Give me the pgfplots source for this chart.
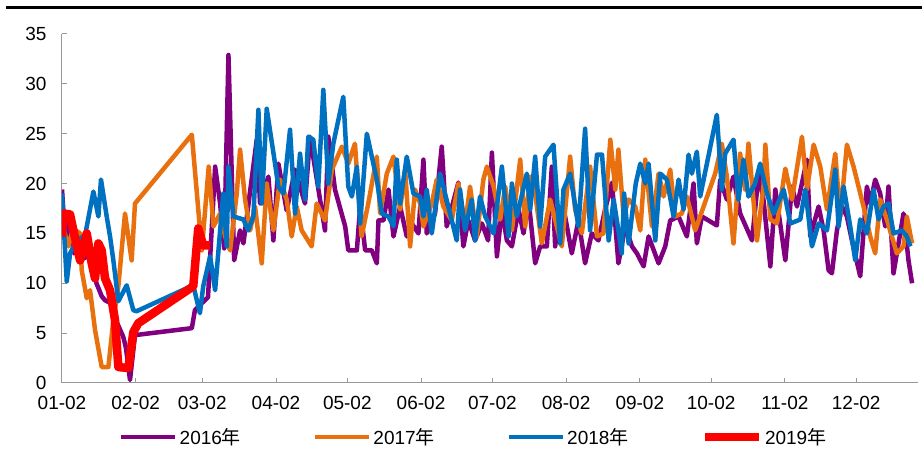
\documentclass[border=0pt]{standalone}
\usepackage{fontspec}
\setmainfont{Liberation Sans}
\newfontfamily\cjk{Noto Sans CJK SC}
\usepackage{pgfplots}
\pgfplotsset{compat=1.18}

\definecolor{c2016}{HTML}{800080}
\definecolor{c2017}{HTML}{E8700E}
\definecolor{c2018}{HTML}{0070C0}
\definecolor{c2019}{HTML}{FF0000}
\definecolor{axgray}{HTML}{999999}

\begin{document}
\begin{tikzpicture}[x=1pt,y=1pt]
\useasboundingbox (0,0) rectangle (922,455);
\draw[line width=3pt] (6,447) -- (922,447);
\begin{axis}[
    at={(62pt,72pt)}, anchor=south west,
    scale only axis,
    width=856pt, height=349pt,
    xmin=0, xmax=360,
    ymin=0, ymax=35,
    axis x line*=bottom, axis y line*=left,
    axis line style={-, draw=axgray, line width=1pt},
    tick style={draw=axgray, line width=1pt},
    tick align=inside,
    major tick length=5pt,
    xtick={0,31,59,90,120,151,181,212,243,273,304,334},
    xticklabels={01-02,02-02,03-02,04-02,05-02,06-02,07-02,08-02,09-02,10-02,11-02,12-02},
    ytick={0,5,...,35},
    /pgf/number format/assume math mode=true,
    ticklabel style={font=\fontsize{19}{22}\selectfont},
    yticklabel style={xshift=-12pt},
    xticklabel style={yshift=-10pt},
    line join=round,
    legend columns=4,
    legend style={at={(0.481,-0.155)}, anchor=center, draw=none, fill=none,
        font=\fontsize{19}{22}\selectfont,
        /tikz/every even column/.append style={column sep=70pt},
        nodes={inner sep=2pt}},
    legend image code/.code={\draw[#1] (0pt,0pt) -- (54pt,0pt);},
]
% 2016
\addplot[c2016, line width=4.5pt] coordinates {
(0,19.4) (1.5,14) (3,16.5) (5,13) (7,15) (9.5,12.5) (12,13.5) (14.5,10) (16.7,8.7)
(18.1,8.3) (20.5,8.0) (22.3,6.5) (25.8,4.6) (26.9,3.5) (28.6,0.3) (30.7,4.8)
(54.6,5.5) (55.9,7.3) (58.8,8.0) (61.4,8.6) (64.4,21.7) (66.5,18.0) (68.2,13.5)
(70.0,32.9) (72.4,12.3) (74.9,15.3) (76.3,14.0) (81.9,24.4) (83.3,18.0) (86.8,20.7)
(88.9,14.3) (91.0,22.0) (94.5,17.3) (98.0,21.4) (102.2,18.0) (104.3,24.7) (110.6,15.3)
(112.0,24.7) (114.8,19.4) (119.1,15.7) (120.4,13.3) (124.0,13.3) (125.4,17.7) (127.5,13.3)
(130.3,13.3) (132.4,12.0) (133.1,16.3) (135.2,16.3) (137.3,19.4) (139.4,14.7) (142.2,17.7)
(145.0,14.7) (147.1,16.0) (149.9,15.0) (152.0,22.4) (153.4,15.0) (156.9,17.0) (159.7,23.7)
(161.8,15.7) (166.7,20.1) (168.8,13.7) (170.9,16.3) (173.7,14.3) (176.6,16.0) (179.2,14.3)
(180.8,23.1) (182.9,12.7) (185.0,17.4) (187.1,14.3) (189.2,13.7) (192.0,17.4) (194.1,15.0)
(196.2,18.4) (199.0,12.0) (201.1,13.7) (203.9,13.7) (206.0,21.7) (207.4,13.7) (209.5,17.4)
(211.6,16.7) (214.4,13.0) (217.2,16.3) (220.0,12.0) (222.8,15.0) (225.6,14.3) (228.4,17.4)
(231.3,20.1) (234.0,12.0) (236.9,15.7) (239.7,13.7) (241.8,13.0) (244.6,11.7) (246.7,14.7)
(250.9,12.0) (253.7,13.7) (255.8,16.3) (259.3,16.7) (262.8,14.7) (265.6,20.0) (267.0,14.0)
(269.1,16.7) (275.4,15.8) (276.8,20.4) (279.6,18.4) (282.4,20.7) (285.2,17.0) (290.2,14.3)
(293.0,21.0) (295.0,18.4) (297.9,11.7) (300.0,19.4) (302.8,14.7) (304.2,12.3) (307.0,19.7)
(309.1,17.7) (313.3,22.4) (314.7,14.7) (318.2,17.7) (320.3,15.3) (322.4,11.3) (323.8,11.0)
(325.9,15.3) (328.0,17.7) (330.1,16.7) (332.2,14.3) (335.7,10.7) (338.5,19.7) (339.9,18.0)
(342.0,20.4) (344.1,19.0) (346.2,15.7) (347.6,19.7) (349.7,11.0) (352.5,15.0) (353.9,17.0)
(356.0,12.3) (357.5,10.0)
};
\addlegendentry{2016{\cjk 年}}
% 2017
\addplot[c2017, line width=4.5pt] coordinates {
(0,16.0) (2.7,13.7) (4.6,15.5) (7.6,15.0) (8.3,11.3) (10.4,8.5) (11.8,9.3) (13.9,5.3)
(16.7,1.6) (19.5,1.6) (21.6,6.3) (23.7,9.7) (26.5,17.0) (29.3,12.3) (30.7,18.0)
(54.6,24.9) (58.8,13.3) (61.7,21.7) (63.7,15.7) (66.5,17.0) (68.6,14.7) (70.7,13.3)
(73.5,19.0) (74.9,23.4) (77.0,18.4) (79.1,15.3) (81.2,17.7) (84.0,12.0) (86.1,20.0)
(88.9,15.3) (91.7,20.4) (94.5,18.4) (96.6,14.7) (98.7,17.7) (100.8,15.3) (105.0,13.7)
(107.1,18.0) (110.6,16.3) (113.5,21.4) (117.7,23.7) (120.4,22.0) (123.2,24.0) (126.0,14.7)
(128.8,18.0) (132.4,22.7) (133.8,17.0) (136.6,21.0) (139.4,22.7) (142.2,17.4) (144.3,21.4)
(146.4,13.7) (148.5,19.4) (150.6,18.0) (152.0,15.7) (155.5,18.0) (157.6,20.4) (160.4,17.7)
(163.9,16.3) (166.7,20.0) (169.5,15.7) (171.6,19.7) (174.5,14.7) (177.2,20.4) (178.7,21.7)
(181.5,19.7) (184.3,16.4) (186.4,19.7) (189.2,15.3) (192.7,22.4) (194.8,15.7) (196.9,20.7)
(199.0,19.0) (201.8,14.0) (205.3,18.4) (208.1,15.7) (210.2,13.7) (213.7,22.7) (215.8,17.4)
(218.6,15.0) (222.1,21.7) (225.0,14.7) (227.7,15.0) (230.6,24.4) (232.7,19.4) (234.0,23.4)
(236.2,16.7) (238.3,18.4) (241.1,17.7) (243.2,15.3) (245.3,22.4) (248.1,15.7) (250.9,21.0)
(253.0,18.7) (255.8,21.4) (257.9,16.7) (260.7,17.0) (262.8,18.7) (266.3,15.3) (274.7,21.0)
(277.5,24.0) (279.6,20.7) (282.4,14.0) (285.2,23.0) (287.3,19.4) (288.7,24.0) (292.3,14.3)
(295.0,19.7) (295.8,23.9) (297.9,16.4) (300.7,16.0) (304.2,21.5) (307.0,18.4) (311.2,24.7)
(313.3,19.4) (316.1,23.9) (318.9,21.7) (321.7,17.4) (325.2,23.0) (327.3,16.7) (330.1,23.9)
(332.9,21.7) (337.1,17.7) (339.9,14.7) (342.0,13.0) (344.1,18.4) (346.9,16.4) (351.1,13.0)
(353.9,13.7) (355.3,16.7) (357.5,14.0)
};
\addlegendentry{2017{\cjk 年}}
% 2018
\addplot[c2018, line width=4.5pt] coordinates {
(0,19.0) (2.0,10.2) (3.4,13.0) (6.2,14.3) (9.7,14.8) (13.2,19.2) (15.3,16.7) (16.4,20.4)
(18.8,16.7) (20.2,14.7) (21.6,12.3) (23.7,8.2) (27.2,9.8) (30.0,7.3) (31.4,7.2)
(55.2,9.8) (58.0,7.0) (59.4,9.7) (62.3,12.7) (64.4,9.3) (67.8,19.0) (69.3,13.7)
(70.0,21.7) (72.1,16.7) (76.3,16.4) (78.3,15.3) (80.5,16.7) (82.6,27.4) (84.0,18.0)
(86.1,27.5) (89.6,22.0) (91.0,19.7) (93.1,19.0) (95.9,25.4) (98.0,17.0) (100.1,23.0)
(102.2,18.4) (103.6,24.7) (105.7,24.4) (107.8,19.7) (109.9,29.4) (112.0,20.0) (114.1,24.0)
(118.3,28.7) (120.4,19.7) (121.9,18.7) (124.0,21.7) (125.4,16.0) (128.2,25.0) (132.4,20.4)
(134.5,17.0) (137.3,16.7) (139.4,15.7) (140.8,22.4) (142.2,18.0) (145.0,22.7) (147.8,19.0)
(150.6,18.7) (152.0,16.7) (153.4,19.4) (155.5,15.0) (159.0,21.0) (163.2,17.0) (166.0,14.3)
(167.4,19.4) (169.5,15.3) (172.3,18.4) (173.7,14.3) (175.8,18.7) (178.0,16.7) (181.5,15.0)
(185.0,21.7) (187.8,14.7) (189.2,20.0) (191.3,16.7) (195.5,21.0) (196.9,17.4) (199.0,22.7)
(201.1,15.7) (203.2,22.7) (206.7,23.9) (209.5,14.0) (210.9,19.4) (213.7,21.0) (217.2,15.7)
(220.0,25.5) (222.1,15.3) (225.0,22.9) (227.1,22.9) (229.9,14.3) (232.0,18.4) (234.0,15.3)
(235.4,13.0) (236.4,19.0) (238.3,14.0) (241.3,20.0) (243.2,22.0) (245.3,20.0) (246.7,22.0)
(249.5,14.3) (251.6,21.0) (254.4,20.4) (257.2,16.7) (259.3,20.4) (261.4,17.4) (263.5,22.9)
(264.9,21.0) (267.0,23.2) (268.4,18.7) (275.4,26.9) (277.5,19.4) (278.9,23.0) (282.4,24.4)
(284.5,18.4) (286.6,22.4) (288.7,18.7) (291.5,20.0) (293.6,22.0) (296.5,19.0) (299.3,17.0)
(303.5,19.4) (306.3,16.0) (310.5,16.4) (312.6,19.4) (315.4,13.7) (318.2,16.0) (321.7,15.3)
(325.2,21.4) (326.6,15.7) (328.7,19.7) (331.5,15.7) (333.6,12.3) (335.7,16.4) (338.5,15.0)
(341.3,19.4) (343.4,16.4) (345.5,17.7) (347.6,18.0) (349.7,15.0) (353.2,15.3) (355.3,14.7)
(356.8,13.7)
};
\addlegendentry{2018{\cjk 年}}
% 2019
\addplot[c2019, line width=8.5pt] coordinates {
(0,14.7) (0.5,17.0) (3.4,16.9) (4.8,15.3) (7.6,12.3) (10.4,15.0) (12.5,12.0) (13.9,10.5)
(15.3,14.0) (16.7,13.3) (18.1,10.5) (20.2,9.3) (22.3,6.3) (23.7,1.6) (27.9,1.5) (30.0,5.1)
(32.1,6.0) (55.2,9.7) (57.3,15.5) (59.4,13.8) (62.3,13.8)
};
\addlegendentry{2019{\cjk 年}}
\end{axis}
\end{tikzpicture}
\end{document}
